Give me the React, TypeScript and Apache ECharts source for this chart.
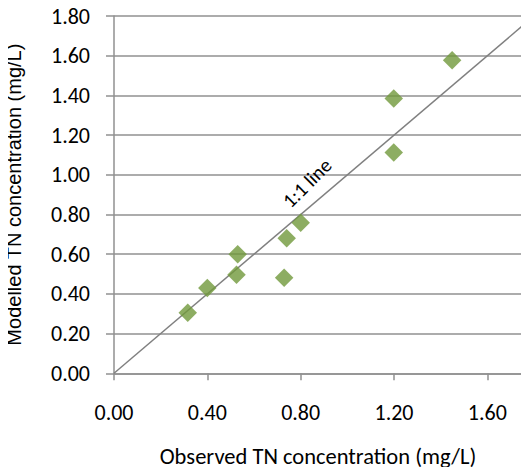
import React, { useEffect, useRef } from "react";
import * as echarts from "echarts";

const observed = [0.316, 0.40, 0.525, 0.53, 0.729, 0.74, 0.80, 1.199, 1.199, 1.449];
const modelled = [0.305, 0.43, 0.497, 0.60, 0.481, 0.68, 0.758, 1.112, 1.384, 1.577];
const oneToOneX = [0, 1.8];
const oneToOneY = [0, 1.8];
const xTitle = "Observed TN concentration (mg/L)";
const yTitle = "Modelled TN concentration (mg/L)";
const lineLabel = "1:1 line";

export default function App() {
  const ref = useRef<HTMLDivElement>(null);
  useEffect(() => {
    if (!ref.current) return;
    const chart = echarts.init(ref.current, undefined, { renderer: "svg" });
    const font = "Carlito, Calibri, 'Open Sans', sans-serif";
    const axisGray = "#909090";
    chart.setOption({
      animation: false,
      backgroundColor: "#ffffff",
      grid: { left: 114, top: 16, width: 420, height: 357.3, outerBoundsMode: "none", containLabel: false },
      xAxis: {
        type: "value",
        min: 0,
        max: 1.8,
        interval: 0.4,
        name: xTitle,
        nameLocation: "middle",
        nameGap: 72,
        nameTextStyle: { fontFamily: font, fontSize: 22.5, color: "#000", padding: [0, 12, 0, 0] },
        axisLine: { show: true, lineStyle: { color: axisGray, width: 1.5 } },
        axisTick: { show: true, inside: false, length: 7, lineStyle: { color: axisGray, width: 1.5 } },
        axisLabel: {
          margin: 28,
          fontFamily: font,
          fontSize: 22,
          color: "#000",
          showMaxLabel: false,
          formatter: (v: number) => v.toFixed(2),
        },
        splitLine: { show: false },
      },
      yAxis: {
        type: "value",
        min: 0,
        max: 1.8,
        interval: 0.2,
        name: yTitle,
        nameLocation: "middle",
        nameGap: 90,
        nameTextStyle: { fontFamily: "'Liberation Sans', Arial, sans-serif", fontSize: 20, color: "#000" },
        axisLine: { show: true, lineStyle: { color: axisGray, width: 1.5 } },
        axisTick: { show: true, inside: false, length: 8, lineStyle: { color: axisGray, width: 1.5 } },
        axisLabel: {
          margin: 24,
          fontFamily: font,
          fontSize: 22,
          color: "#000",
          formatter: (v: number) => v.toFixed(2),
        },
        splitLine: { show: true, lineStyle: { color: axisGray, width: 1.5 } },
      },
      series: [
        {
          type: "line",
          data: oneToOneX.map((x, i) => [x, oneToOneY[i]]),
          showSymbol: false,
          symbol: "none",
          lineStyle: { color: "#808080", width: 1.5 },
          z: 1,
          silent: true,
        },
        {
          type: "scatter",
          data: observed.map((x, i) => [x, modelled[i]]),
          symbol: "diamond",
          symbolSize: 18.5,
          itemStyle: { color: "#71983B" },
          z: 3,
        },
      ],
      graphic: [
        {
          type: "text",
          x: 307,
          y: 183,
          rotation: Math.PI / 4,
          style: {
            text: lineLabel,
            fontFamily: font,
            fontSize: 20,
            fill: "#000",
            align: "center",
            verticalAlign: "middle",
          },
          z: 10,
        },
      ],
    });
    return () => chart.dispose();
  }, []);
  return <div ref={ref} style={{ margin: -8, width: 529, height: 475, overflow: "hidden" }} />;
}
